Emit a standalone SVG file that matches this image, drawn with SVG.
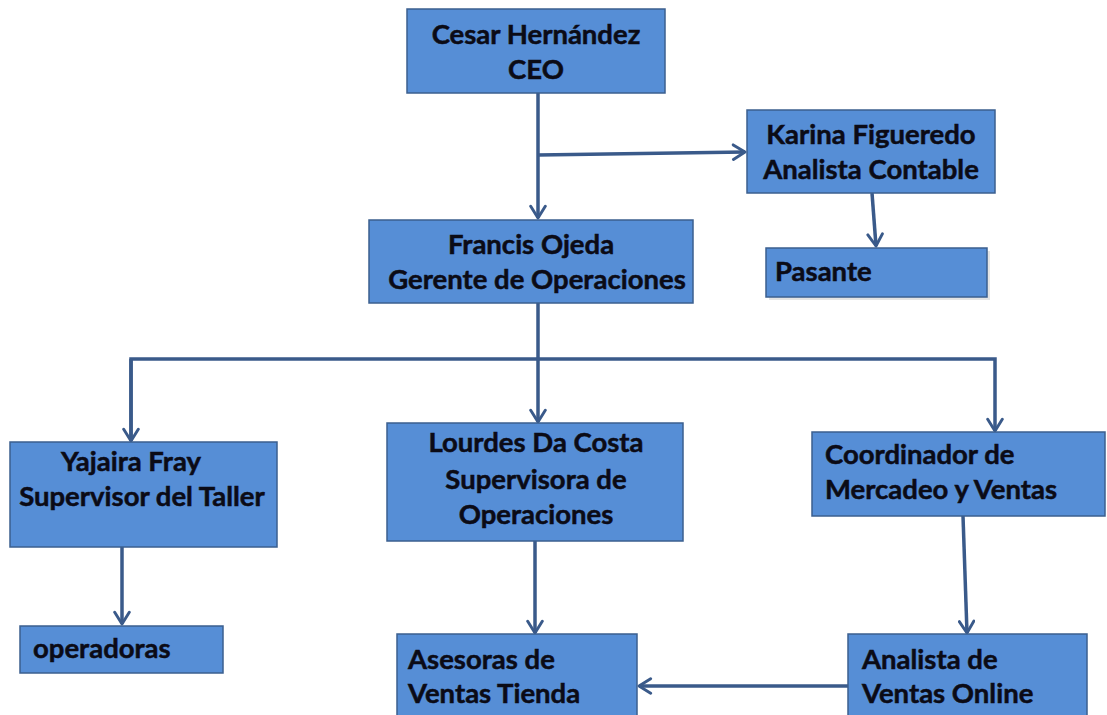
<svg xmlns="http://www.w3.org/2000/svg" width="1107" height="715" viewBox="0 0 1107 715">
<style>
.box{fill:#568ed6;stroke:#3b5f8f;stroke-width:1.5}
.sh{fill:#c9c9c9;opacity:0.5}
.t{font-family:Lato,"Liberation Sans",sans-serif;font-weight:bold;font-size:27.5px;fill:#0b0b16;stroke:#0b0b16;stroke-width:0.5}
.c{text-anchor:middle}
.ln{fill:none;stroke:#3a5a8a;stroke-width:3.5}
</style>
<defs>
<marker id="ah" viewBox="0 0 12 12" refX="10" refY="6" markerWidth="5" markerHeight="5" orient="auto" markerUnits="strokeWidth">
<path d="M2,1 L10,6 L2,11" fill="none" stroke="#3a5a8a" stroke-width="2" stroke-linecap="round" stroke-linejoin="round"/>
</marker>
</defs>
<rect width="1107" height="715" fill="#ffffff"/>
<g id="connectors">
<line class="ln" x1="538" y1="93" x2="538" y2="218" marker-end="url(#ah)"/>
<line class="ln" x1="538" y1="155" x2="745" y2="152" marker-end="url(#ah)"/>
<line class="ln" x1="872" y1="193" x2="876" y2="246" marker-end="url(#ah)"/>
<line class="ln" x1="538" y1="303" x2="538" y2="359"/>
<polyline class="ln" points="131,441 131,359 995,359 995,431" marker-end="url(#ah)"/>
<line class="ln" x1="131" y1="359" x2="131" y2="441" marker-end="url(#ah)"/>
<line class="ln" x1="538" y1="359" x2="538" y2="422" marker-end="url(#ah)"/>
<line class="ln" x1="122" y1="547" x2="122" y2="624" marker-end="url(#ah)"/>
<line class="ln" x1="535" y1="541" x2="535" y2="633" marker-end="url(#ah)"/>
<line class="ln" x1="963" y1="516" x2="967" y2="633" marker-end="url(#ah)"/>
<line class="ln" x1="848" y1="686" x2="639" y2="686" marker-end="url(#ah)"/>
</g>
<g id="ceo">
<rect class="box" x="407" y="9" width="258" height="84"/>
<text class="t c" x="536" y="44">Cesar Hernández</text>
<text class="t c" x="536" y="79">CEO</text>
</g>
<g id="karina">
<rect class="box" x="747" y="110" width="248" height="83"/>
<text class="t c" x="871" y="144">Karina Figueredo</text>
<text class="t c" x="871" y="179">Analista Contable</text>
</g>
<g id="pasante">
<rect class="sh" x="769" y="251" width="221" height="49"/>
<rect class="box" x="766" y="248" width="221" height="49"/>
<text class="t" x="775" y="281">Pasante</text>
</g>
<g id="francis">
<rect class="box" x="369" y="220" width="324" height="83"/>
<text class="t c" x="531" y="254">Francis Ojeda</text>
<text class="t c" x="537" y="289">Gerente de Operaciones</text>
</g>
<g id="yajaira">
<rect class="box" x="10" y="442" width="267" height="105"/>
<text class="t c" x="131" y="471">Yajaira Fray</text>
<text class="t c" x="142" y="506">Supervisor del Taller</text>
</g>
<g id="lourdes">
<rect class="box" x="387" y="423" width="296" height="118"/>
<text class="t c" x="536" y="452">Lourdes Da Costa</text>
<text class="t c" x="536" y="489">Supervisora de</text>
<text class="t c" x="536" y="524">Operaciones</text>
</g>
<g id="coordinador">
<rect class="box" x="812" y="432" width="293" height="84"/>
<text class="t" x="825" y="464">Coordinador de</text>
<text class="t" x="825" y="499">Mercadeo y Ventas</text>
</g>
<g id="operadoras">
<rect class="box" x="20" y="626" width="203" height="47"/>
<text class="t" x="33" y="658">operadoras</text>
</g>
<g id="asesoras">
<rect class="box" x="397" y="634" width="240" height="90"/>
<text class="t" x="408" y="669">Asesoras de</text>
<text class="t" x="408" y="703">Ventas Tienda</text>
</g>
<g id="analista">
<rect class="box" x="848" y="634" width="239" height="90"/>
<text class="t" x="862" y="669">Analista de</text>
<text class="t" x="862" y="703">Ventas Online</text>
</g>
</svg>
